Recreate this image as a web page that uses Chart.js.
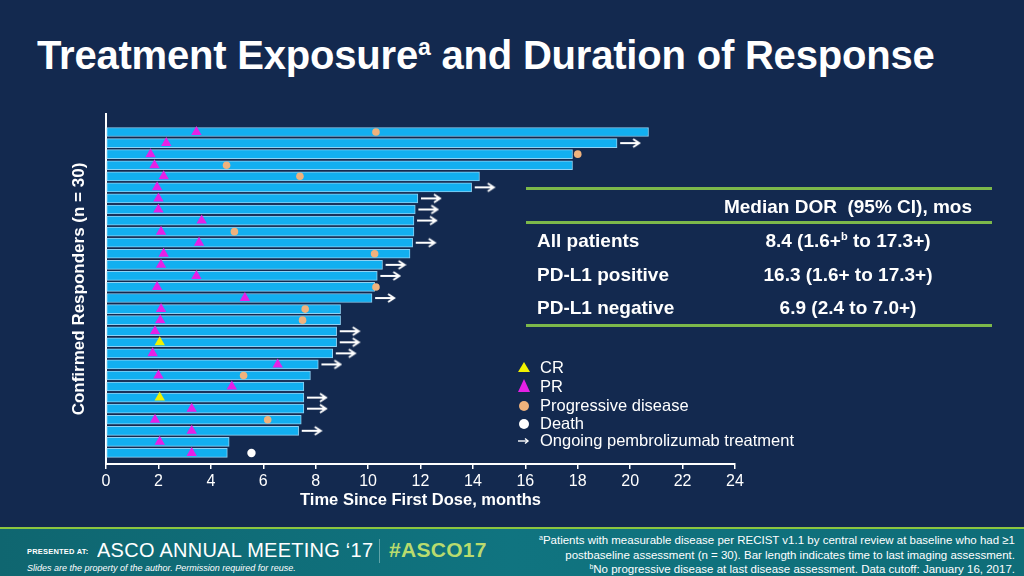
<!DOCTYPE html>
<html>
<head>
<meta charset="utf-8">
<script src="https://cdn.jsdelivr.net/npm/chart.js@4.4.1/dist/chart.umd.min.js"></script>
<style>
  html, body { margin: 0; padding: 0; }
  body {
    width: 1024px; height: 576px; overflow: hidden; position: relative;
    background: #13294f; font-family: "Liberation Sans", Arial, sans-serif; color: #fff;
  }
  #title {
    position: absolute; left: 37px; top: 33px; font-size: 40px; font-weight: bold;
    letter-spacing: -0.2px; white-space: nowrap;
  }
  #title sup { font-size: 23px; vertical-align: 14px; line-height: 0; }
  #chartBox { position: absolute; left: 0; top: 0; width: 1024px; height: 576px; }
  .gline { position: absolute; left: 526px; width: 466px; height: 3px; background: #7cb84a; }
  .tcell { position: absolute; font-size: 19px; font-weight: bold; white-space: nowrap; }
  .tval { left: 700px; width: 296px; text-align: center; }
  .tval sup { font-size: 11px; vertical-align: 7px; line-height: 0; }
  .leg { position: absolute; left: 516px; font-size: 16.5px; white-space: nowrap; }
  .leg svg { position: absolute; left: 0; top: 2px; }
  .leg span { position: absolute; left: 24px; top: 0; }
  #footer {
    position: absolute; left: 0; top: 527px; width: 1024px; height: 49px;
    background: linear-gradient(90deg, #0f6670 0%, #107480 50%, #0f6d78 100%);
    border-top: 2px solid #8cc63f;
  }
  #footer .pres { position: absolute; left: 27px; top: 18px; font-size: 7.5px; font-weight: bold; letter-spacing: 0.2px; }
  #footer .asco { position: absolute; left: 97px; top: 9px; font-size: 21px; transform: scaleX(0.95); transform-origin: left center; letter-spacing: 0.3px; white-space: nowrap; }
  #footer .sep { position: absolute; left: 379px; top: 10px; width: 1px; height: 24px; background: #5fa3a8; }
  #footer .hash { position: absolute; left: 389px; top: 9px; font-size: 21px; font-weight: bold; color: #b9db6e; letter-spacing: 0.3px; }
  #footer .slides { position: absolute; left: 27px; top: 34px; font-size: 9px; font-style: italic; white-space: nowrap; }
  #footer .notes {
    position: absolute; right: 9px; top: 4px; text-align: right; font-size: 11.5px; line-height: 14.5px;
    white-space: nowrap;
  }
  #footer .notes sup { font-size: 7px; vertical-align: 4px; line-height: 0; }
</style>
</head>
<body>
<div id="title">Treatment Exposure<sup>a</sup> and Duration of Response</div>
<div id="chartBox"><canvas id="dorChart"></canvas></div>

<div class="gline" style="top:187px"></div>
<div class="gline" style="top:221px"></div>
<div class="gline" style="top:324px"></div>
<div class="tcell tval" style="top:196px">Median DOR&nbsp; (95% CI),&nbsp;mos</div>
<div class="tcell" style="left:537px; top:230px">All patients</div>
<div class="tcell" style="left:537px; top:264px">PD-L1 positive</div>
<div class="tcell" style="left:537px; top:297px">PD-L1 negative</div>
<div class="tcell tval" style="top:230px">8.4 (1.6+<sup>b</sup> to 17.3+)</div>
<div class="tcell tval" style="top:264px">16.3 (1.6+ to 17.3+)</div>
<div class="tcell tval" style="top:297px">6.9 (2.4 to 7.0+)</div>

<div class="leg" style="top:358px"><svg width="16" height="14"><polygon points="8,2 14,12 2,12" fill="#f2f200"/></svg><span>CR</span></div>
<div class="leg" style="top:377px"><svg width="16" height="14"><polygon points="8,0 14,13 2,13" fill="#e620e6"/></svg><span>PR</span></div>
<div class="leg" style="top:396px"><svg width="16" height="14"><circle cx="8" cy="8" r="5" fill="#f0b27c"/></svg><span>Progressive disease</span></div>
<div class="leg" style="top:414px"><svg width="16" height="14"><circle cx="8" cy="8" r="5" fill="#ffffff"/></svg><span>Death</span></div>
<div class="leg" style="top:431px"><svg width="16" height="14"><line x1="2" y1="8" x2="12" y2="8" stroke="#fff" stroke-width="1.4"/><polyline points="9,5.5 12,8 9,10.5" fill="none" stroke="#fff" stroke-width="1.4"/></svg><span>Ongoing pembrolizumab treatment</span></div>

<div id="footer">
  <div class="pres">PRESENTED AT:</div>
  <div class="asco">ASCO ANNUAL MEETING ‘17</div>
  <div class="sep"></div>
  <div class="hash">#ASCO17</div>
  <div class="slides">Slides are the property of the author. Permission required for reuse.</div>
  <div class="notes"><sup>a</sup>Patients with measurable disease per RECIST v1.1 by central review at baseline who had ≥1<br>postbaseline assessment (n = 30). Bar length indicates time to last imaging assessment.<br><sup>b</sup>No progressive disease at last disease assessment. Data cutoff: January 16, 2017.</div>
</div>

<script>
// --- Data (months), one entry per responder, top to bottom ---
const patients = [1,2,3,4,5,6,7,8,9,10,11,12,13,14,15,16,17,18,19,20,21,22,23,24,25,26,27,28,29,30];
const barEnd = [20.7, 19.5, 17.8, 17.8, 14.25, 13.95, 11.9, 11.8, 11.75, 11.75,
                11.7, 11.6, 10.55, 10.35, 10.25, 10.15, 8.95, 8.95, 8.8, 8.8,
                8.65, 8.1, 7.8, 7.55, 7.55, 7.55, 7.45, 7.35, 4.7, 4.63];
// time of response onset; type per patient
const respTime = [3.45, 2.3, 1.7, 1.85, 2.2, 1.95, 2.0, 2.0, 3.65, 2.1,
                  3.55, 2.2, 2.1, 3.45, 1.95, 5.3, 2.1, 2.07, 1.87, 2.05,
                  1.78, 6.55, 2.0, 4.8, 2.05, 3.27, 1.87, 3.27, 2.05, 3.27];
const respType = ["PR","PR","PR","PR","PR","PR","PR","PR","PR","PR",
                  "PR","PR","PR","PR","PR","PR","PR","PR","PR","CR",
                  "PR","PR","PR","PR","CR","PR","PR","PR","PR","PR"];
// progressive disease: [patient, month]
const pdEvents = [[1, 10.3], [3, 18.0], [4, 4.6], [5, 7.4], [10, 4.9], [12, 10.25],
                  [15, 10.3], [17, 7.6], [18, 7.5], [23, 5.25], [27, 6.17]];
const deathEvents = [[30, 5.55]];
const ongoing = [2, 6, 7, 8, 9, 11, 13, 14, 16, 19, 20, 21, 22, 25, 26, 28];
const xTicks = [0, 2, 4, 6, 8, 10, 12, 14, 16, 18, 20, 22, 24];

// --- Arrow point style ---
function makeArrow() {
  const c = document.createElement("canvas");
  c.width = 22; c.height = 12;
  const g = c.getContext("2d");
  g.strokeStyle = "#ffffff"; g.lineWidth = 2; g.lineCap = "butt";
  g.beginPath(); g.moveTo(1, 6); g.lineTo(19, 6); g.stroke();
  g.beginPath(); g.moveTo(14, 2); g.lineTo(20, 6); g.lineTo(14, 10); g.stroke();
  return c;
}
const arrowImg = makeArrow();

const bars = patients.map((p, i) => ({ x: barEnd[i], y: p }));
const prPts = patients.filter((p, i) => respType[i] === "PR").map((p) => ({ x: respTime[p - 1], y: p }));
const crPts = patients.filter((p, i) => respType[i] === "CR").map((p) => ({ x: respTime[p - 1], y: p }));
const pdPts = pdEvents.map((e) => ({ x: e[1], y: e[0] }));
const deathPts = deathEvents.map((e) => ({ x: e[1], y: e[0] }));
const arrowPts = ongoing.map((p) => ({ x: barEnd[p - 1] + 0.5, y: p }));

const markerBase = { type: "scatter", showLine: false, order: 1, pointBorderWidth: 0 };

new Chart(document.getElementById("dorChart"), {
  type: "bar",
  data: {
    datasets: [
      { ...markerBase, label: "PR", data: prPts, pointStyle: "triangle", pointRadius: 6, backgroundColor: "#e620e6" },
      { ...markerBase, label: "CR", data: crPts, pointStyle: "triangle", pointRadius: 6, backgroundColor: "#f2f200" },
      { ...markerBase, label: "Progressive disease", data: pdPts, pointStyle: "circle", pointRadius: 3.8, backgroundColor: "#f0b27c" },
      { ...markerBase, label: "Death", data: deathPts, pointStyle: "circle", pointRadius: 4.2, backgroundColor: "#ffffff" },
      { ...markerBase, label: "Ongoing", data: arrowPts, pointStyle: arrowImg, pointRadius: 8 },
      {
        type: "bar", label: "Exposure", data: bars, indexAxis: "y", order: 10,
        backgroundColor: "#12aff0", borderColor: "#8ed2f4", borderWidth: 1,
        barThickness: 9, borderSkipped: false,
      },
    ],
  },
  options: {
    responsive: true, maintainAspectRatio: false, animation: false,
    layout: { padding: { left: 60, right: 289, top: 114, bottom: 62 } },
    plugins: { legend: { display: false }, tooltip: { enabled: false } },
    scales: {
      x: {
        type: "linear", min: 0, max: 24, offset: false,
        afterBuildTicks: (s) => { s.ticks = xTicks.map((v) => ({ value: v })); },
        afterFit: (s) => { s.height = 50; },
        grid: { offset: false, drawOnChartArea: false, drawTicks: true, tickLength: 5, color: "#ffffff", lineWidth: 1.5 },
        border: { color: "#ffffff", width: 2 },
        ticks: { color: "#ffffff", font: { size: 16, family: "Liberation Sans" }, padding: 3 },
        title: { display: true, text: "Time Since First Dose, months", color: "#ffffff",
                 font: { size: 16.5, weight: "bold", family: "Liberation Sans" }, padding: { top: 0 } },
      },
      y: {
        type: "linear", min: -0.63, max: 31, reverse: true, offset: false,
        afterFit: (s) => { s.width = 46; },
        grid: { display: false, offset: false },
        border: { color: "#ffffff", width: 2 },
        ticks: { display: false },
        title: { display: true, text: "Confirmed Responders (n = 30)", color: "#ffffff",
                 font: { size: 17, weight: "bold", family: "Liberation Sans" }, padding: { top: 9, bottom: 0 } },
      },
    },
  },
});
</script>
</body>
</html>
